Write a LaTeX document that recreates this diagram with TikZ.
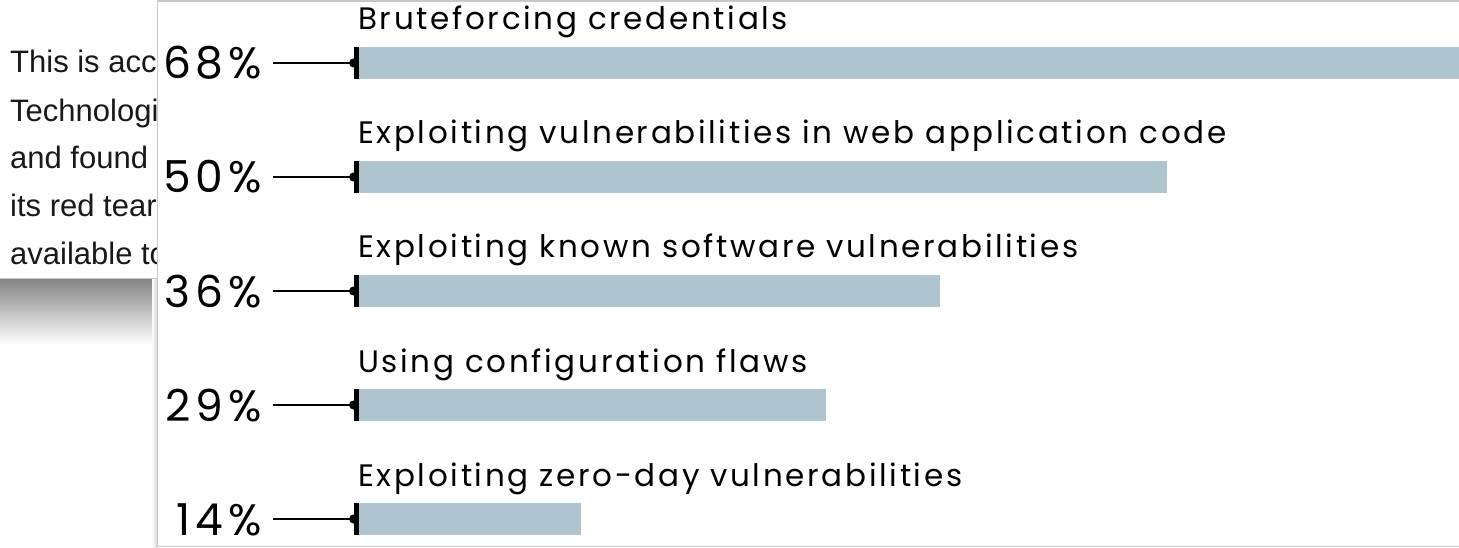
\documentclass[tikz,border=0pt]{standalone}
\usepackage{fontspec}
\setmainfont{Liberation Sans}
\newfontfamily\chartfont[LetterSpace=8.6]{Poppins}
\newfontfamily\pctfont[LetterSpace=11]{Poppins}
\definecolor{barblue}{RGB}{174,196,207}
\definecolor{panelgray}{RGB}{200,200,200}
\tikzset{
  bgtext/.style={anchor=base west, inner sep=0pt, font=\fontsize{31}{36}\selectfont, text=black!90},
  barbox/.style={fill=barblue, draw=none, anchor=west, minimum height=32pt, inner sep=0pt},
  tickbox/.style={fill=black, draw=none, minimum width=5pt, minimum height=32pt, inner sep=0pt},
  conn/.style={draw=black, line width=2pt},
  catlbl/.style={anchor=base west, inner sep=0pt, font=\chartfont\fontsize{31}{36}\selectfont},
  pctlbl/.style={anchor=base east, inner sep=0pt, font=\pctfont\fontsize{44}{50}\selectfont},
}
\begin{document}
\begin{tikzpicture}[x=1pt,y=-1pt]
\useasboundingbox (0,0) rectangle (1459,548);
\fill[white] (0,0) rectangle (1459,548);
% background page and its shadow
\shade[top color=black!48, bottom color=white] (0,279) rectangle (160,345);
\draw[black!22, line width=1pt] (0,278.5) -- (157,278.5);
\begin{scope}
\clip (0,0) rectangle (157,278);
\node[bgtext] (t1) at (10,73) {This is acc};
\node[bgtext] (t2) at (10,122) {Technologi};
\node[bgtext] (t3) at (10,169) {and found};
\node[bgtext] (t4) at (10,217) {its red tear};
\node[bgtext] (t5) at (10,265) {available to};
\end{scope}
% panel shadow
\foreach \i/\c in {1/14,2/9,3/6,4/3,5/2}
  \draw[black!\c, line width=1pt] (157.5-\i,279) -- (157.5-\i,548);
% panel
\fill[white] (157,0) rectangle (1459,547);
\draw[panelgray, line width=1.5pt] (1459,1) -- (157.5,1) -- (157.5,546.5) -- (1459,546.5);
% rows
\foreach \n/\p/\lab/\y/\e in {
  a/68/Bruteforcing credentials/63/1459,
  b/50/Exploiting vulnerabilities in web application code/177/1167,
  c/36/Exploiting known software vulnerabilities/291/940,
  d/29/Using configuration flaws/405/826,
  e/14/Exploiting zero-day vulnerabilities/519/581}{
  \node[barbox, minimum width={(\e-359)*1pt}] (bar\n) at (359,\y) {};
  \node[tickbox] (tick\n) at (356,\y) {};
  \fill[black] (353.5,\y) circle (4.5pt);
  \node[catlbl] (lab\n) at (358,\y-33) {\lab};
  \node[pctlbl] (pct\n) at (262,\y+16) {\p\%};
  \draw[conn] ([xshift=11pt]pct\n.east |- tick\n.west) -- (tick\n.west);
}
\end{tikzpicture}
\end{document}
